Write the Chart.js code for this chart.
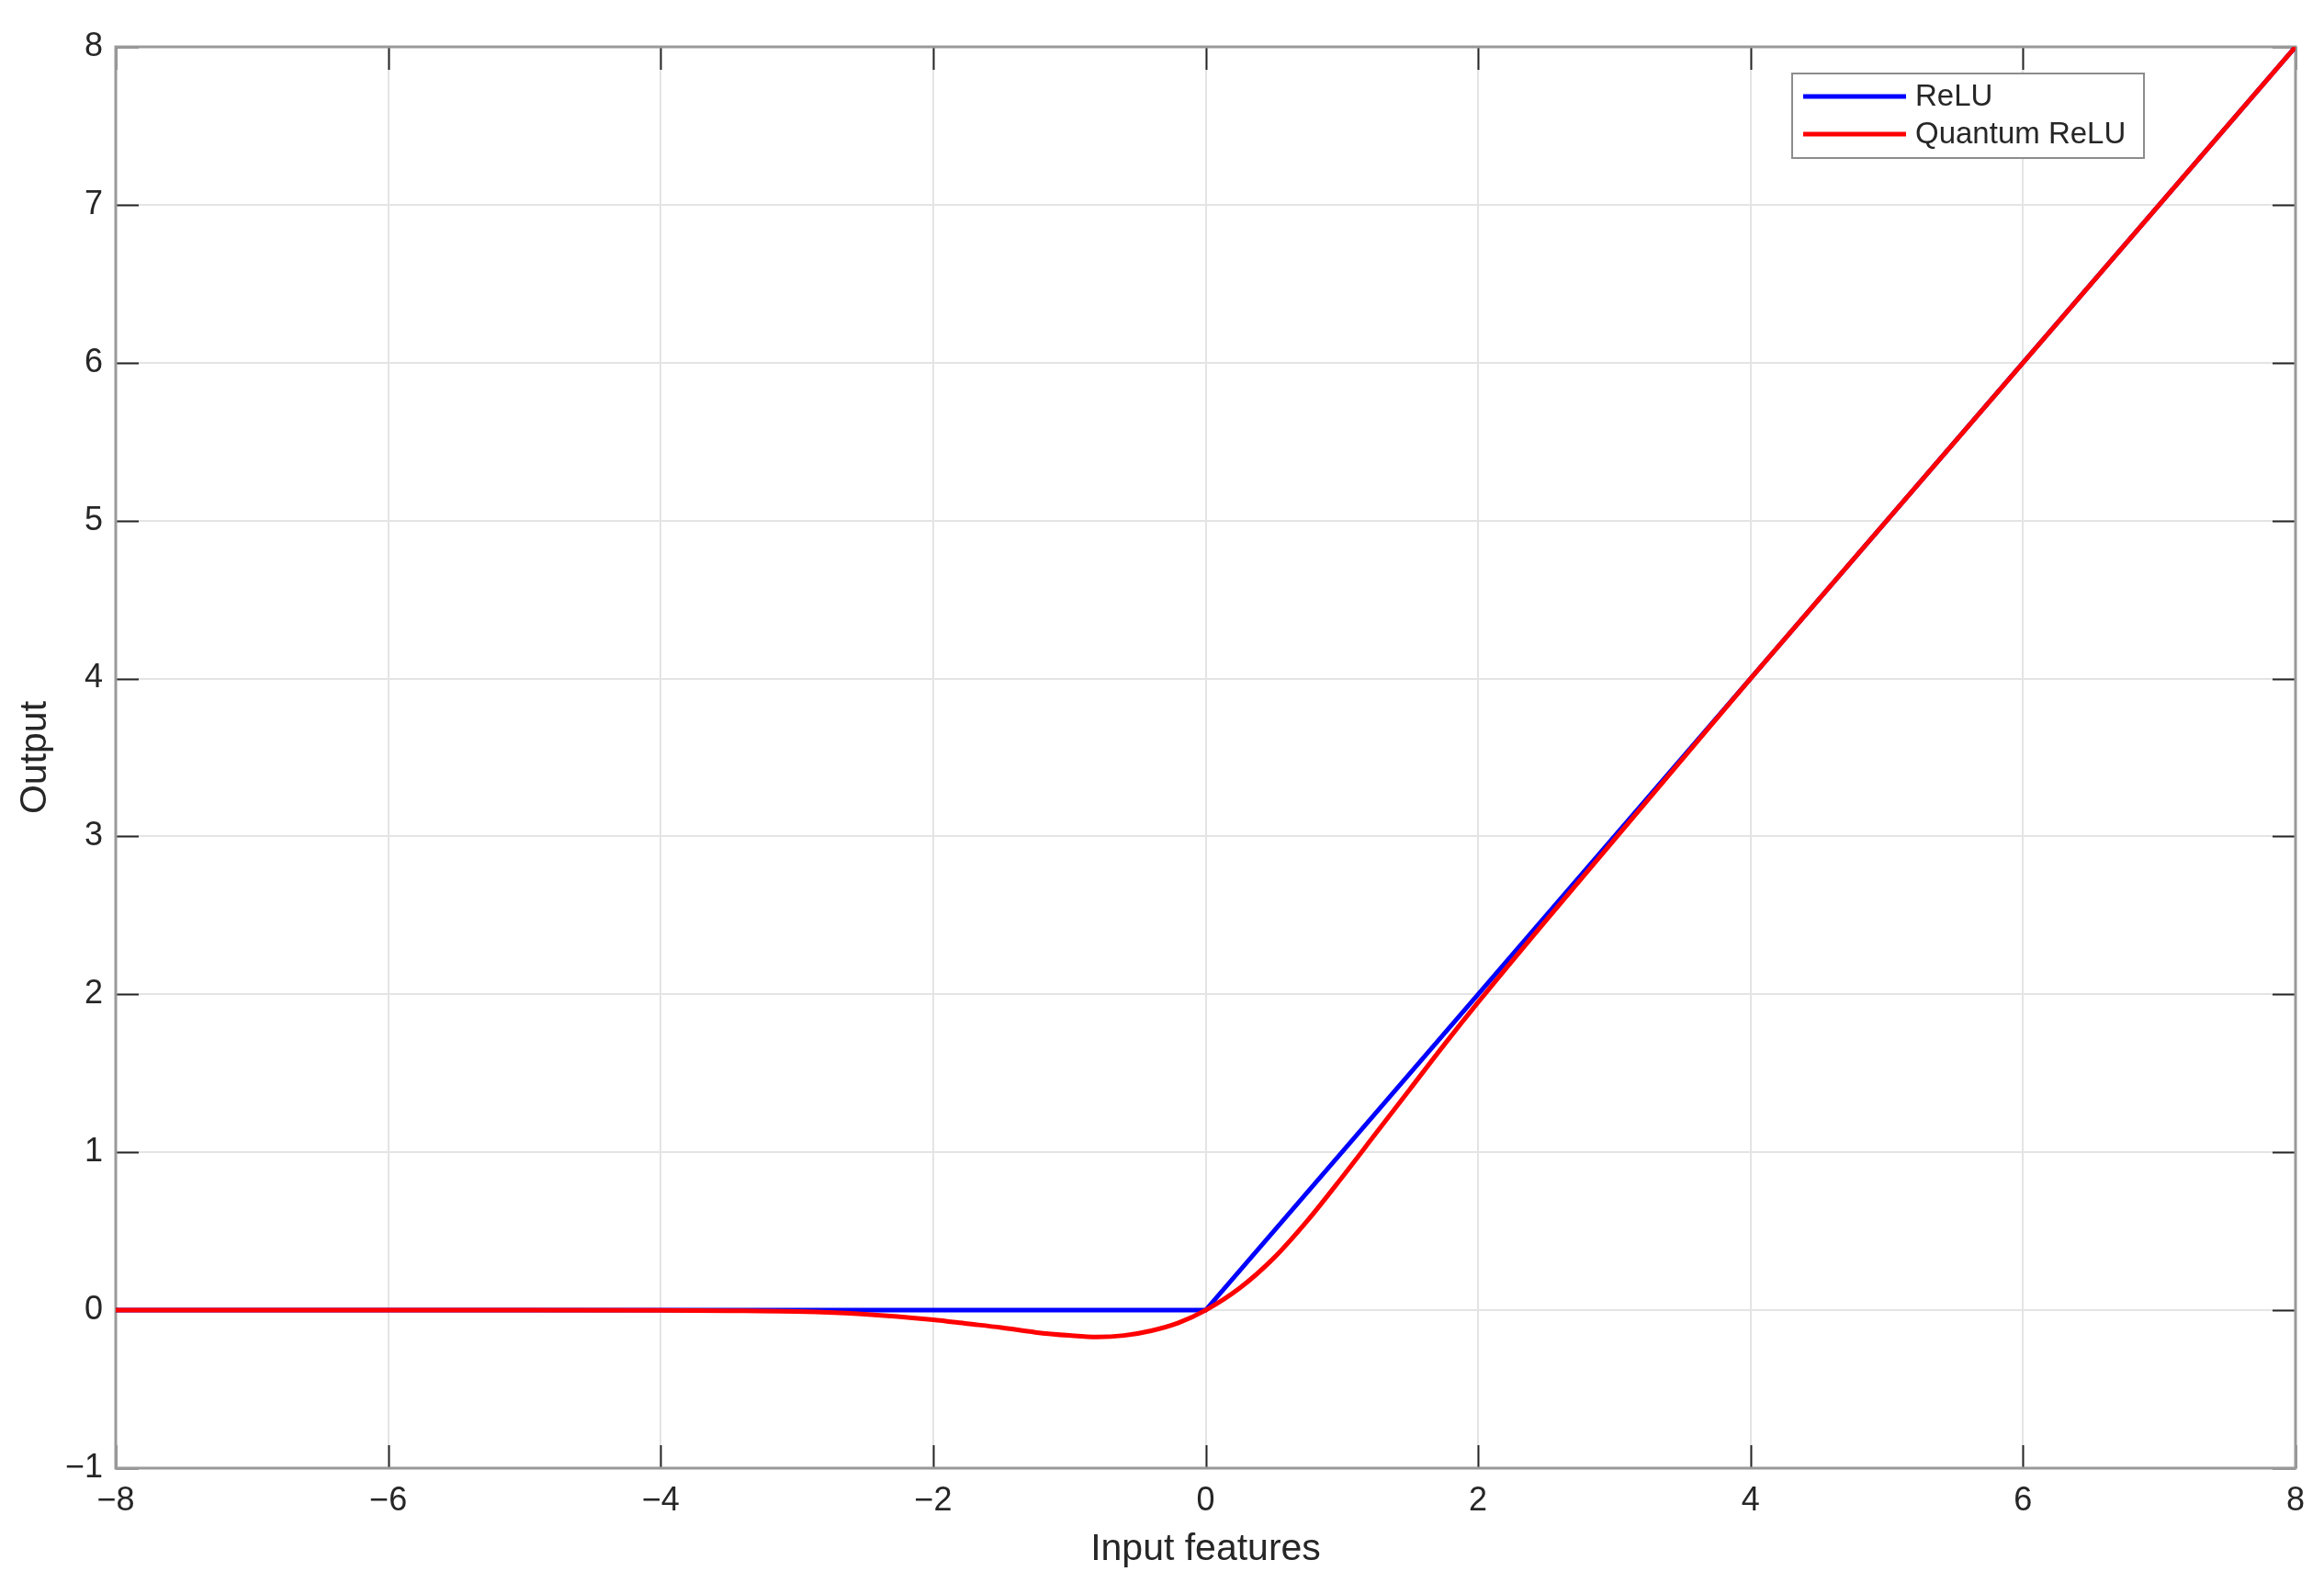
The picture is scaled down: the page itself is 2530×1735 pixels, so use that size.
<!DOCTYPE html>
<html>
<head>
<meta charset="utf-8">
<script src="https://cdn.jsdelivr.net/npm/chart.js@4.4.1/dist/chart.umd.min.js"></script>
<style>
  html, body { margin: 0; padding: 0; background: #fff; }
  canvas { display: block; }
</style>
</head>
<body>
<canvas id="reluChart" width="2530" height="1735"></canvas>
<script>
'use strict';

// ReLU: breakpoints only
const reluX = [-8, 0, 8];
const reluY = [0, 0, 8];

// Quantum ReLU
const quantumX = [-8, -6, -5, -4, -3.5, -3, -2.5, -2, -1.75, -1.5, -1.25, -1, -0.8, -0.6, -0.4, -0.2, 0,
                  0.25, 0.5, 0.75, 1, 1.25, 1.5, 1.75, 2, 2.5, 3, 3.5, 4, 5, 6, 7, 8];
const quantumY = [0, 0, 0, -0.001, -0.003, -0.008, -0.025, -0.06, -0.085, -0.11, -0.14, -0.16, -0.17, -0.16, -0.13, -0.08, 0,
                  0.14, 0.33, 0.57, 0.84, 1.12, 1.40, 1.68, 1.95, 2.47, 2.98, 3.49, 4.0, 5.0, 6.0, 7.0, 8.0];

const xTicks = [-8, -6, -4, -2, 0, 2, 4, 6, 8];
const yTicks = [-1, 0, 1, 2, 3, 4, 5, 6, 7, 8];

const seriesLabels = ['ReLU', 'Quantum ReLU'];

const FONT = "'Liberation Sans', Arial, Helvetica, sans-serif";
const TEXT = '#262626';

function points(xs, ys) {
  return xs.map((x, i) => ({ x: x, y: ys[i] }));
}

function minusLabel(v) {
  return v < 0 ? '\u2212' + Math.abs(v) : String(v);
}

// box round the axes and inward tick marks, like the original figure
const axesBox = {
  id: 'axesBox',
  beforeDatasetsDraw(chart) {
    const { ctx, chartArea: a, scales: { x, y } } = chart;
    const len = 25;
    ctx.save();
    ctx.strokeStyle = TEXT;
    ctx.lineWidth = 2;
    ctx.beginPath();
    x.ticks.forEach(t => {
      const px = Math.round(x.getPixelForValue(t.value)) + 0.5;
      ctx.moveTo(px, a.bottom); ctx.lineTo(px, a.bottom - len);
      ctx.moveTo(px, a.top); ctx.lineTo(px, a.top + len);
    });
    y.ticks.forEach(t => {
      const py = Math.round(y.getPixelForValue(t.value)) + 0.5;
      ctx.moveTo(a.left, py); ctx.lineTo(a.left + len, py);
      ctx.moveTo(a.right, py); ctx.lineTo(a.right - len, py);
    });
    ctx.stroke();
    ctx.strokeStyle = '#999999';
    ctx.lineWidth = 3;
    ctx.strokeRect(a.left, a.top, a.right - a.left, a.bottom - a.top);
    ctx.restore();
  },
  afterDraw(chart) {
    const { ctx, chartArea: a } = chart;
    const bx = a.right - 548, by = a.top + 29, bw = 383, bh = 92;
    ctx.save();
    ctx.fillStyle = '#ffffff';
    ctx.fillRect(bx, by, bw, bh);
    ctx.strokeStyle = '#8c8c8c';
    ctx.lineWidth = 2;
    ctx.strokeRect(bx, by, bw, bh);
    ctx.font = '33px ' + FONT;
    ctx.textBaseline = 'middle';
    chart.data.datasets.forEach((ds, i) => {
      const ry = by + 25 + i * 41;
      ctx.strokeStyle = ds.borderColor;
      ctx.lineWidth = 5;
      ctx.beginPath();
      ctx.moveTo(bx + 12, ry);
      ctx.lineTo(bx + 124, ry);
      ctx.stroke();
      ctx.fillStyle = TEXT;
      ctx.fillText(ds.label, bx + 134, ry + 1);
    });
    ctx.restore();
  }
};

const ctx = document.getElementById('reluChart').getContext('2d');

new Chart(ctx, {
  type: 'scatter',
  data: {
    datasets: [
      {
        label: seriesLabels[0],
        data: points(reluX, reluY),
        showLine: true,
        borderColor: '#0000ff',
        backgroundColor: '#0000ff',
        borderWidth: 5,
        pointRadius: 0,
        tension: 0,
        order: 1          // drawn under the red curve
      },
      {
        label: seriesLabels[1],
        data: points(quantumX, quantumY),
        showLine: true,
        borderColor: '#ff0000',
        backgroundColor: '#ff0000',
        borderWidth: 5,
        pointRadius: 0,
        cubicInterpolationMode: 'monotone',
        order: 0
      }
    ]
  },
  options: {
    responsive: false,
    animation: false,
    events: [],
    layout: { padding: { left: 0, top: 51, right: 31, bottom: 0 } },
    plugins: {
      legend: { display: false },
      tooltip: { enabled: false }
    },
    scales: {
      x: {
        type: 'linear',
        min: -8,
        max: 8,
        afterBuildTicks: s => { s.ticks = xTicks.map(v => ({ value: v })); },
        afterFit: s => { s.height = 137; },
        grid: { color: '#e4e4e4', lineWidth: 2, drawTicks: false },
        border: { display: false },
        ticks: {
          padding: 14,
          color: TEXT,
          font: { family: FONT, size: 36 },
          callback: minusLabel
        },
        title: {
          display: true,
          text: 'Input features',
          color: TEXT,
          font: { family: FONT, size: 41 },
          padding: { top: 0, bottom: 24 }
        }
      },
      y: {
        type: 'linear',
        min: -1,
        max: 8,
        afterBuildTicks: s => { s.ticks = yTicks.map(v => ({ value: v })); },
        afterFit: s => { s.width = 126; },
        grid: { color: '#e4e4e4', lineWidth: 2, drawTicks: false },
        border: { display: false },
        ticks: {
          padding: 14,
          color: TEXT,
          font: { family: FONT, size: 36 },
          callback: minusLabel
        },
        title: {
          display: true,
          text: 'Output',
          color: TEXT,
          font: { family: FONT, size: 41 },
          padding: { top: 14, bottom: 0 }
        }
      }
    }
  },
  plugins: [axesBox]
});
</script>
</body>
</html>
